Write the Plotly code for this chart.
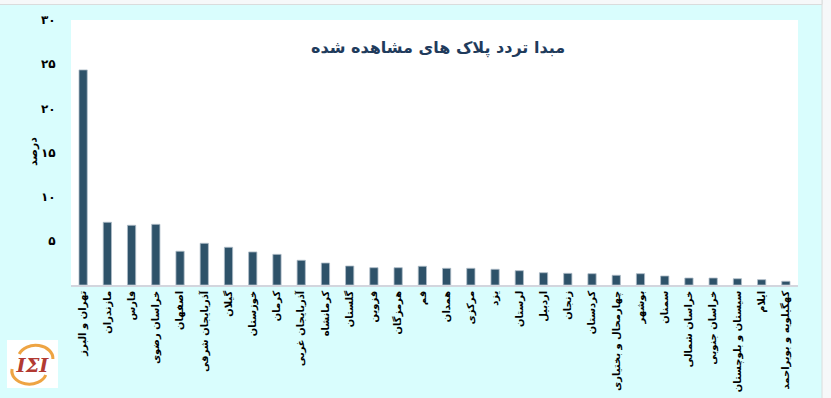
import base64
import plotly.graph_objects as go

categories = [
    "تهران و البرز", "مازندران", "فارس", "خراسان رضوی", "اصفهان",
    "آذربایجان شرقی", "گیلان", "خوزستان", "کرمان", "آذربایجان غربی",
    "کرمانشاه", "گلستان", "قزوین", "هرمزگان", "قم",
    "همدان", "مرکزی", "یزد", "لرستان", "اردبیل",
    "زنجان", "کردستان", "چهارمحال و بختیاری", "بوشهر", "سمنان",
    "خراسان شمالی", "خراسان جنوبی", "سیستان و بلوچستان", "ایلام", "کهگیلویه و بویراحمد",
]
values = [
    24.35, 7.1, 6.76, 6.87, 3.82,
    4.72, 4.27, 3.74, 3.47, 2.8,
    2.49, 2.15, 1.96, 1.96, 2.12,
    1.89, 1.89, 1.78, 1.62, 1.39,
    1.32, 1.28, 1.1, 1.28, 1.02,
    0.79, 0.79, 0.71, 0.6, 0.42,
]
y_tick_vals = [5, 10, 15, 20, 25, 30]
y_tick_text = ["۵", "۱۰", "۱۵", "۲۰", "۲۵", "۳۰"]
title_text = "مبدا تردد پلاک های مشاهده شده"
y_title = "درصد"

W, H = 831, 398
L, R, T, B = 71, 33, 20, 113
pw, ph = W - L - R, H - T - B


def px_x(px):
    return (px - L) / pw


def px_y(py):
    return (H - B - py) / ph


FONT = "DejaVu Sans"

fig = go.Figure(
    go.Bar(
        x=categories,
        y=values,
        marker=dict(color="#2e5269", line=dict(color="#aebcc8", width=0.8)),
        width=0.34,
    )
)

logo_svg = (
    "<svg xmlns='http://www.w3.org/2000/svg' viewBox='0 0 50 48'>"
    "<rect width='50' height='48' fill='white'/>"
    "<path d='M12 14 A17 13 0 0 1 45 19' stroke='#eea443' stroke-width='3' fill='none'/>"
    "<path d='M38 35 A17 13 0 0 1 5 29' stroke='#eea443' stroke-width='3' fill='none'/>"
    "<text x='25' y='32' font-family='DejaVu Serif' font-style='italic' font-weight='bold' "
    "font-size='19' fill='#b23a32' text-anchor='middle'>IΣI</text>"
    "</svg>"
)
logo_uri = "data:image/svg+xml;base64," + base64.b64encode(logo_svg.encode("utf-8")).decode()

fig.update_layout(
    width=W,
    height=H,
    margin=dict(l=L, r=R, t=T, b=B, pad=0),
    paper_bgcolor="#d9fdfd",
    plot_bgcolor="white",
    showlegend=False,
    font=dict(family=FONT, color="black"),
    bargap=0.66,
    xaxis=dict(
        type="category",
        range=[-0.5, len(categories) - 0.5],
        tickangle=-90,
        tickfont=dict(family=FONT, size=10, color="black", weight="bold"),
        showline=True,
        linecolor="#d3d6de",
        linewidth=1.5,
        showgrid=False,
        ticks="",
        automargin=False,
        fixedrange=True,
    ),
    yaxis=dict(
        range=[0, 30],
        tickvals=y_tick_vals,
        ticktext=y_tick_text,
        tickfont=dict(family=FONT, size=12, color="black", weight="bold"),
        showgrid=False,
        zeroline=False,
        showline=False,
        ticks="outside",
        ticklen=12,
        tickcolor="rgba(0,0,0,0)",
        automargin=False,
        fixedrange=True,
    ),
    annotations=[
        dict(
            text="<b>" + title_text + "</b>",
            xref="paper", yref="paper",
            x=px_x(438), y=px_y(48),
            showarrow=False,
            font=dict(family=FONT, size=16, color="#1f3b5c", weight="bold"),
            xanchor="center", yanchor="middle",
        ),
        dict(
            text=y_title,
            xref="paper", yref="paper",
            x=px_x(33), y=px_y(152),
            showarrow=False,
            textangle=-90,
            font=dict(family=FONT, size=11, color="black", weight="bold"),
            xanchor="center", yanchor="middle",
        ),
    ],
    shapes=[
        dict(type="rect", xref="paper", yref="paper",
             x0=px_x(822), x1=px_x(840), y0=px_y(410), y1=px_y(-10),
             fillcolor="#f6f8f9", line=dict(color="#dadcdc", width=1), layer="below"),
        dict(type="rect", xref="paper", yref="paper",
             x0=px_x(-10), x1=px_x(822), y0=px_y(4.5), y1=px_y(-10),
             fillcolor="#f6f8f9", line=dict(color="#dadcdc", width=1), layer="below"),
    ],
    images=[
        dict(
            source=logo_uri,
            xref="paper", yref="paper",
            x=px_x(7), y=px_y(340),
            sizex=51 / pw, sizey=48 / ph,
            xanchor="left", yanchor="top",
            sizing="stretch", layer="above",
        )
    ],
)

fig.write_html("out.html")
